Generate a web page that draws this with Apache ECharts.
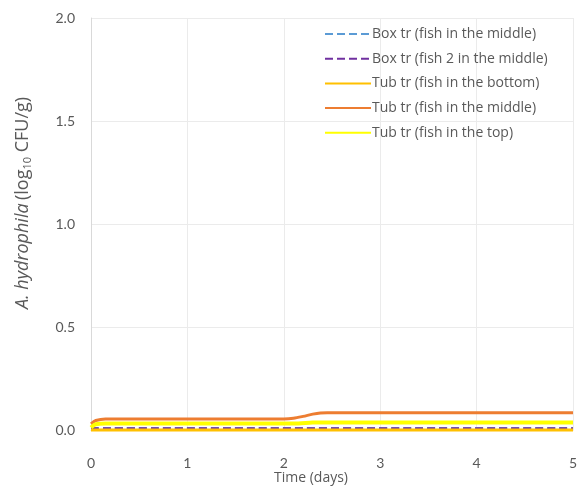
<!DOCTYPE html>
<html><head><meta charset="utf-8">
<script src="https://cdn.jsdelivr.net/npm/echarts@6/dist/echarts.min.js"></script>
<style>html,body{margin:0;padding:0;background:#fff}#c{width:582px;height:489px}</style>
</head><body><div id="c"></div>
<script>
const seriesNames = ['Box tr (fish in the middle)','Box tr (fish 2 in the middle)','Tub tr (fish in the bottom)','Tub tr (fish in the middle)','Tub tr (fish in the top)'];
const boxMiddle = [[0,0.008],[5,0.008]];
const boxMiddle2 = [[0,0.008],[5,0.008]];
const tubBottom = [[0,0.0],[5,0.0]];
const tubMiddle = [[0,0.03],[0.05,0.046],[0.15,0.054],[2.0,0.054],[2.1,0.057],[2.2,0.066],[2.3,0.077],[2.38,0.083],[2.45,0.084],[5,0.084]];
const tubTop = [[0,0.012],[0.05,0.028],[0.15,0.031],[2.1,0.031],[2.3,0.036],[2.4,0.037],[5,0.037]];
const xTicks = [0,1,2,3,4,5];
const yTicks = [0,0.5,1.0,1.5,2.0];

const colors = ['#5B9BD5','#7030A0','#FFC000','#ED7D31','#FFFF00'];
const dataSets = [boxMiddle, boxMiddle2, tubBottom, tubMiddle, tubTop];
const widths = [2,2,3,3,4];
const types = ['dashed','dashed','solid','solid','solid'];

const chart = echarts.init(document.getElementById('c'));
const font = 'Lato, "Open Sans", sans-serif';
const font2 = '"Open Sans", sans-serif';
chart.setOption({
  animation:false,
  grid:{left:91,right:9,top:18,bottom:59},
  xAxis:{type:'value',min:0,max:5,interval:1,
    axisLine:{show:true,lineStyle:{color:'#D9D9D9'}},axisTick:{show:false},
    splitLine:{show:true,lineStyle:{color:'#EBEBEB'}},
    axisLabel:{color:'#595959',fontSize:14,fontFamily:font,margin:26,formatter:v=>xTicks.includes(v)?String(v):''}},
  yAxis:{type:'value',min:0,max:2,interval:0.5,
    axisLine:{show:true,lineStyle:{color:'#D9D9D9'}},axisTick:{show:false},
    splitLine:{show:true,lineStyle:{color:'#EBEBEB'}},
    axisLabel:{color:'#595959',fontSize:14,fontFamily:font,margin:16,formatter:v=>yTicks.includes(v)?v.toFixed(1):''}},
  legend:{orient:'vertical',left:319,top:22,itemWidth:46,itemHeight:14,itemGap:10.7,
    itemStyle:{opacity:0,borderWidth:0},
    textStyle:{color:'#595959',fontSize:14,fontFamily:font2,padding:[0,0,0,-4]},
    data:seriesNames},
  graphic:[
    {type:'text',left:274,top:471,style:{text:'Time (days)',fill:'#595959',font:'14px '+font2}},
    {type:'text',x:12,y:309,rotation:Math.PI/2,
      style:{text:'{i|A. hydrophila} {n|(log}{s|10}{n| CFU/g)}',fill:'#595959',
        rich:{i:{fontStyle:'italic',fontSize:18,fontFamily:font2,fill:'#595959'},
              n:{fontSize:18,fontFamily:font2,fill:'#595959'},
              s:{fontSize:11,fontFamily:font2,fill:'#595959',verticalAlign:'bottom',padding:[10,0,0,0]}}}}
  ],
  series:seriesNames.map((n,i)=>({
    name:n,type:'line',data:dataSets[i],smooth:0.3,showSymbol:false,symbol:'none',clip:false,
    lineStyle:{color:colors[i],width:widths[i],type:types[i]},itemStyle:{color:colors[i]},z:2+i
  }))
});
</script></body></html>
